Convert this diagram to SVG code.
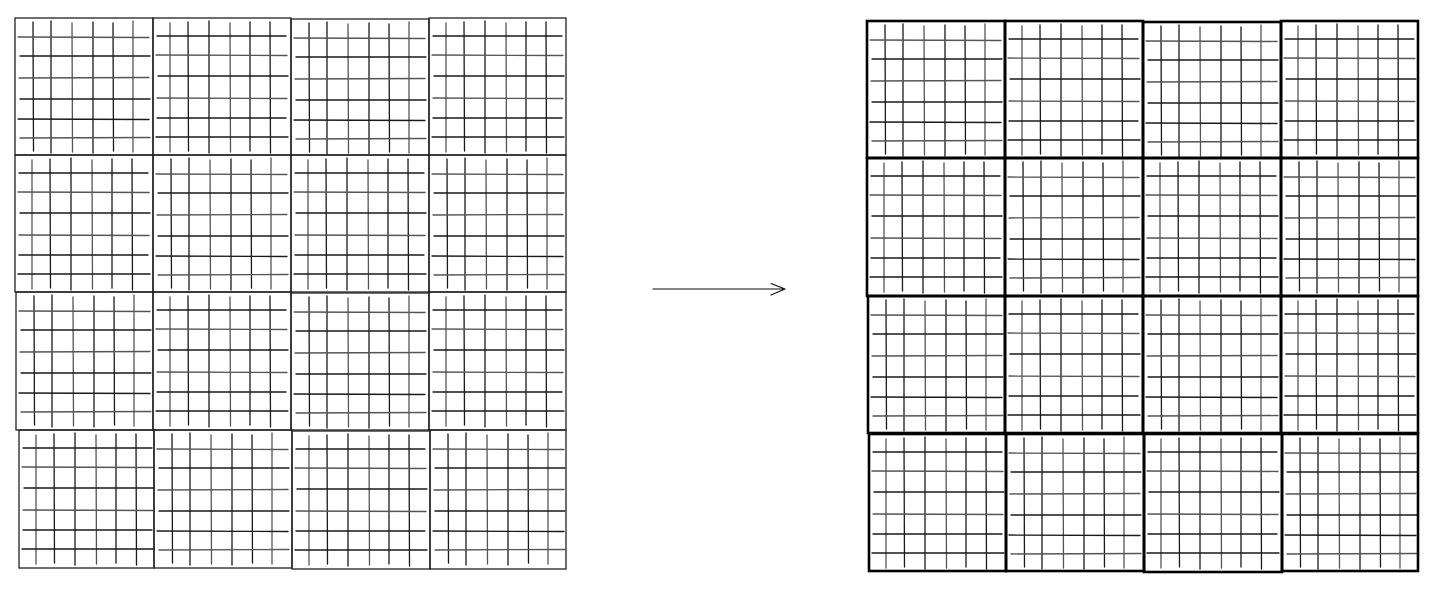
<svg xmlns="http://www.w3.org/2000/svg" xmlns:xlink="http://www.w3.org/1999/xlink" width="1436" height="590" viewBox="0 0 1436 590">
<style>
.in line{stroke:#1a1a1a;stroke-width:1.3;stroke-linecap:round}
.in line.l{stroke:#555}
.fl{fill:none;stroke:#222;stroke-width:1.3}
.fr{fill:none;stroke:#000;stroke-width:2.6}
.ar{fill:none;stroke:#111;stroke-width:1.2;stroke-linecap:round;stroke-linejoin:round}
</style>
<defs>
<g id="p1" class="in">
<line x1="18" y1="4" x2="18.5" y2="133"/>
<line x1="36" y1="3" x2="36" y2="135"/>
<line class="l" x1="57" y1="5" x2="57.5" y2="134"/>
<line x1="78" y1="4" x2="78" y2="135"/>
<line x1="98" y1="5" x2="98.5" y2="133"/>
<line class="l" x1="118" y1="3" x2="118" y2="134"/>
<line class="l" x1="3" y1="19" x2="134" y2="19.5"/>
<line x1="5" y1="38" x2="135" y2="38"/>
<line class="l" x1="4" y1="60" x2="134" y2="59.5"/>
<line x1="5" y1="81" x2="135" y2="81"/>
<line x1="3" y1="101" x2="134" y2="101.5"/>
<line class="l" x1="5" y1="120" x2="135" y2="119.5"/>
</g>
<g id="p2" class="in">
<line class="l" x1="17" y1="5" x2="17" y2="134"/>
<line x1="35" y1="4" x2="35.5" y2="133"/>
<line x1="56" y1="3" x2="56" y2="135"/>
<line class="l" x1="77" y1="5" x2="77.5" y2="134"/>
<line x1="97" y1="4" x2="97" y2="133"/>
<line x1="117" y1="4" x2="117.5" y2="135"/>
<line x1="4" y1="18" x2="133" y2="18"/>
<line class="l" x1="3" y1="37" x2="134" y2="37.5"/>
<line x1="5" y1="58" x2="135" y2="58"/>
<line class="l" x1="4" y1="80" x2="134" y2="80.5"/>
<line x1="4" y1="100" x2="133" y2="100"/>
<line x1="3" y1="119" x2="135" y2="119"/>
</g>
</defs>
<g id="left-grid">
<g id="L11"><use xlink:href="#p1" x="15" y="18"/><rect class="fl" x="15" y="18" width="138" height="137"/></g>
<g id="L12"><use xlink:href="#p2" x="153" y="18"/><rect class="fl" x="153" y="18" width="138" height="137"/></g>
<g id="L13"><use xlink:href="#p1" x="291" y="19"/><rect class="fl" x="291" y="19" width="138" height="136"/></g>
<g id="L14"><use xlink:href="#p2" x="429" y="18"/><rect class="fl" x="429" y="18" width="137" height="137"/></g>
<g id="L21"><use xlink:href="#p2" x="15" y="155"/><rect class="fl" x="15" y="155" width="138" height="137"/></g>
<g id="L22"><use xlink:href="#p1" x="153" y="155"/><rect class="fl" x="153" y="155" width="138" height="137"/></g>
<g id="L23"><use xlink:href="#p2" x="291" y="155"/><rect class="fl" x="291" y="155" width="138" height="137"/></g>
<g id="L24"><use xlink:href="#p1" x="429" y="155"/><rect class="fl" x="429" y="155" width="137" height="137"/></g>
<g id="L31"><use xlink:href="#p1" x="16" y="292"/><rect class="fl" x="16" y="292" width="137" height="138"/></g>
<g id="L32"><use xlink:href="#p2" x="153" y="292"/><rect class="fl" x="153" y="292" width="138" height="138"/></g>
<g id="L33"><use xlink:href="#p1" x="291" y="293"/><rect class="fl" x="291" y="293" width="138" height="137"/></g>
<g id="L34"><use xlink:href="#p2" x="429" y="292"/><rect class="fl" x="429" y="292" width="137" height="138"/></g>
<g id="L41"><use xlink:href="#p2" x="19" y="430"/><rect class="fl" x="19" y="430" width="135" height="138"/></g>
<g id="L42"><use xlink:href="#p1" x="154" y="430"/><rect class="fl" x="154" y="430" width="138" height="138"/></g>
<g id="L43"><use xlink:href="#p2" x="292" y="431"/><rect class="fl" x="292" y="431" width="138" height="138"/></g>
<g id="L44"><use xlink:href="#p1" x="430" y="430"/><rect class="fl" x="430" y="430" width="136" height="139"/></g>
</g>
<g id="right-grid">
<g id="R11"><use xlink:href="#p1" x="867" y="21"/><rect class="fr" x="867" y="21" width="138" height="137"/></g>
<g id="R12"><use xlink:href="#p2" x="1005" y="21"/><rect class="fr" x="1005" y="21" width="138" height="137"/></g>
<g id="R13"><use xlink:href="#p1" x="1143" y="22"/><rect class="fr" x="1143" y="22" width="138" height="136"/></g>
<g id="R14"><use xlink:href="#p2" x="1281" y="21"/><rect class="fr" x="1281" y="21" width="137" height="137"/></g>
<g id="R21"><use xlink:href="#p2" x="867" y="158"/><rect class="fr" x="867" y="158" width="138" height="138"/></g>
<g id="R22"><use xlink:href="#p1" x="1005" y="158"/><rect class="fr" x="1005" y="158" width="138" height="138"/></g>
<g id="R23"><use xlink:href="#p2" x="1143" y="158"/><rect class="fr" x="1143" y="158" width="138" height="138"/></g>
<g id="R24"><use xlink:href="#p1" x="1281" y="158"/><rect class="fr" x="1281" y="158" width="137" height="138"/></g>
<g id="R31"><use xlink:href="#p1" x="868" y="296"/><rect class="fr" x="868" y="296" width="137" height="137"/></g>
<g id="R32"><use xlink:href="#p2" x="1005" y="296"/><rect class="fr" x="1005" y="296" width="138" height="137"/></g>
<g id="R33"><use xlink:href="#p1" x="1143" y="296"/><rect class="fr" x="1143" y="296" width="138" height="137"/></g>
<g id="R34"><use xlink:href="#p2" x="1281" y="296"/><rect class="fr" x="1281" y="296" width="137" height="137"/></g>
<g id="R41"><use xlink:href="#p2" x="869" y="434"/><rect class="fr" x="869" y="434" width="137" height="137"/></g>
<g id="R42"><use xlink:href="#p1" x="1006" y="434"/><rect class="fr" x="1006" y="434" width="138" height="137"/></g>
<g id="R43"><use xlink:href="#p2" x="1144" y="434"/><rect class="fr" x="1144" y="434" width="138" height="138"/></g>
<g id="R44"><use xlink:href="#p1" x="1282" y="434"/><rect class="fr" x="1282" y="434" width="136" height="137"/></g>
</g>
<g id="connectors">
<path class="ar" d="M653 289 L785 289 M771 283.5 L785 289 L771 295"/>
</g>
</svg>
